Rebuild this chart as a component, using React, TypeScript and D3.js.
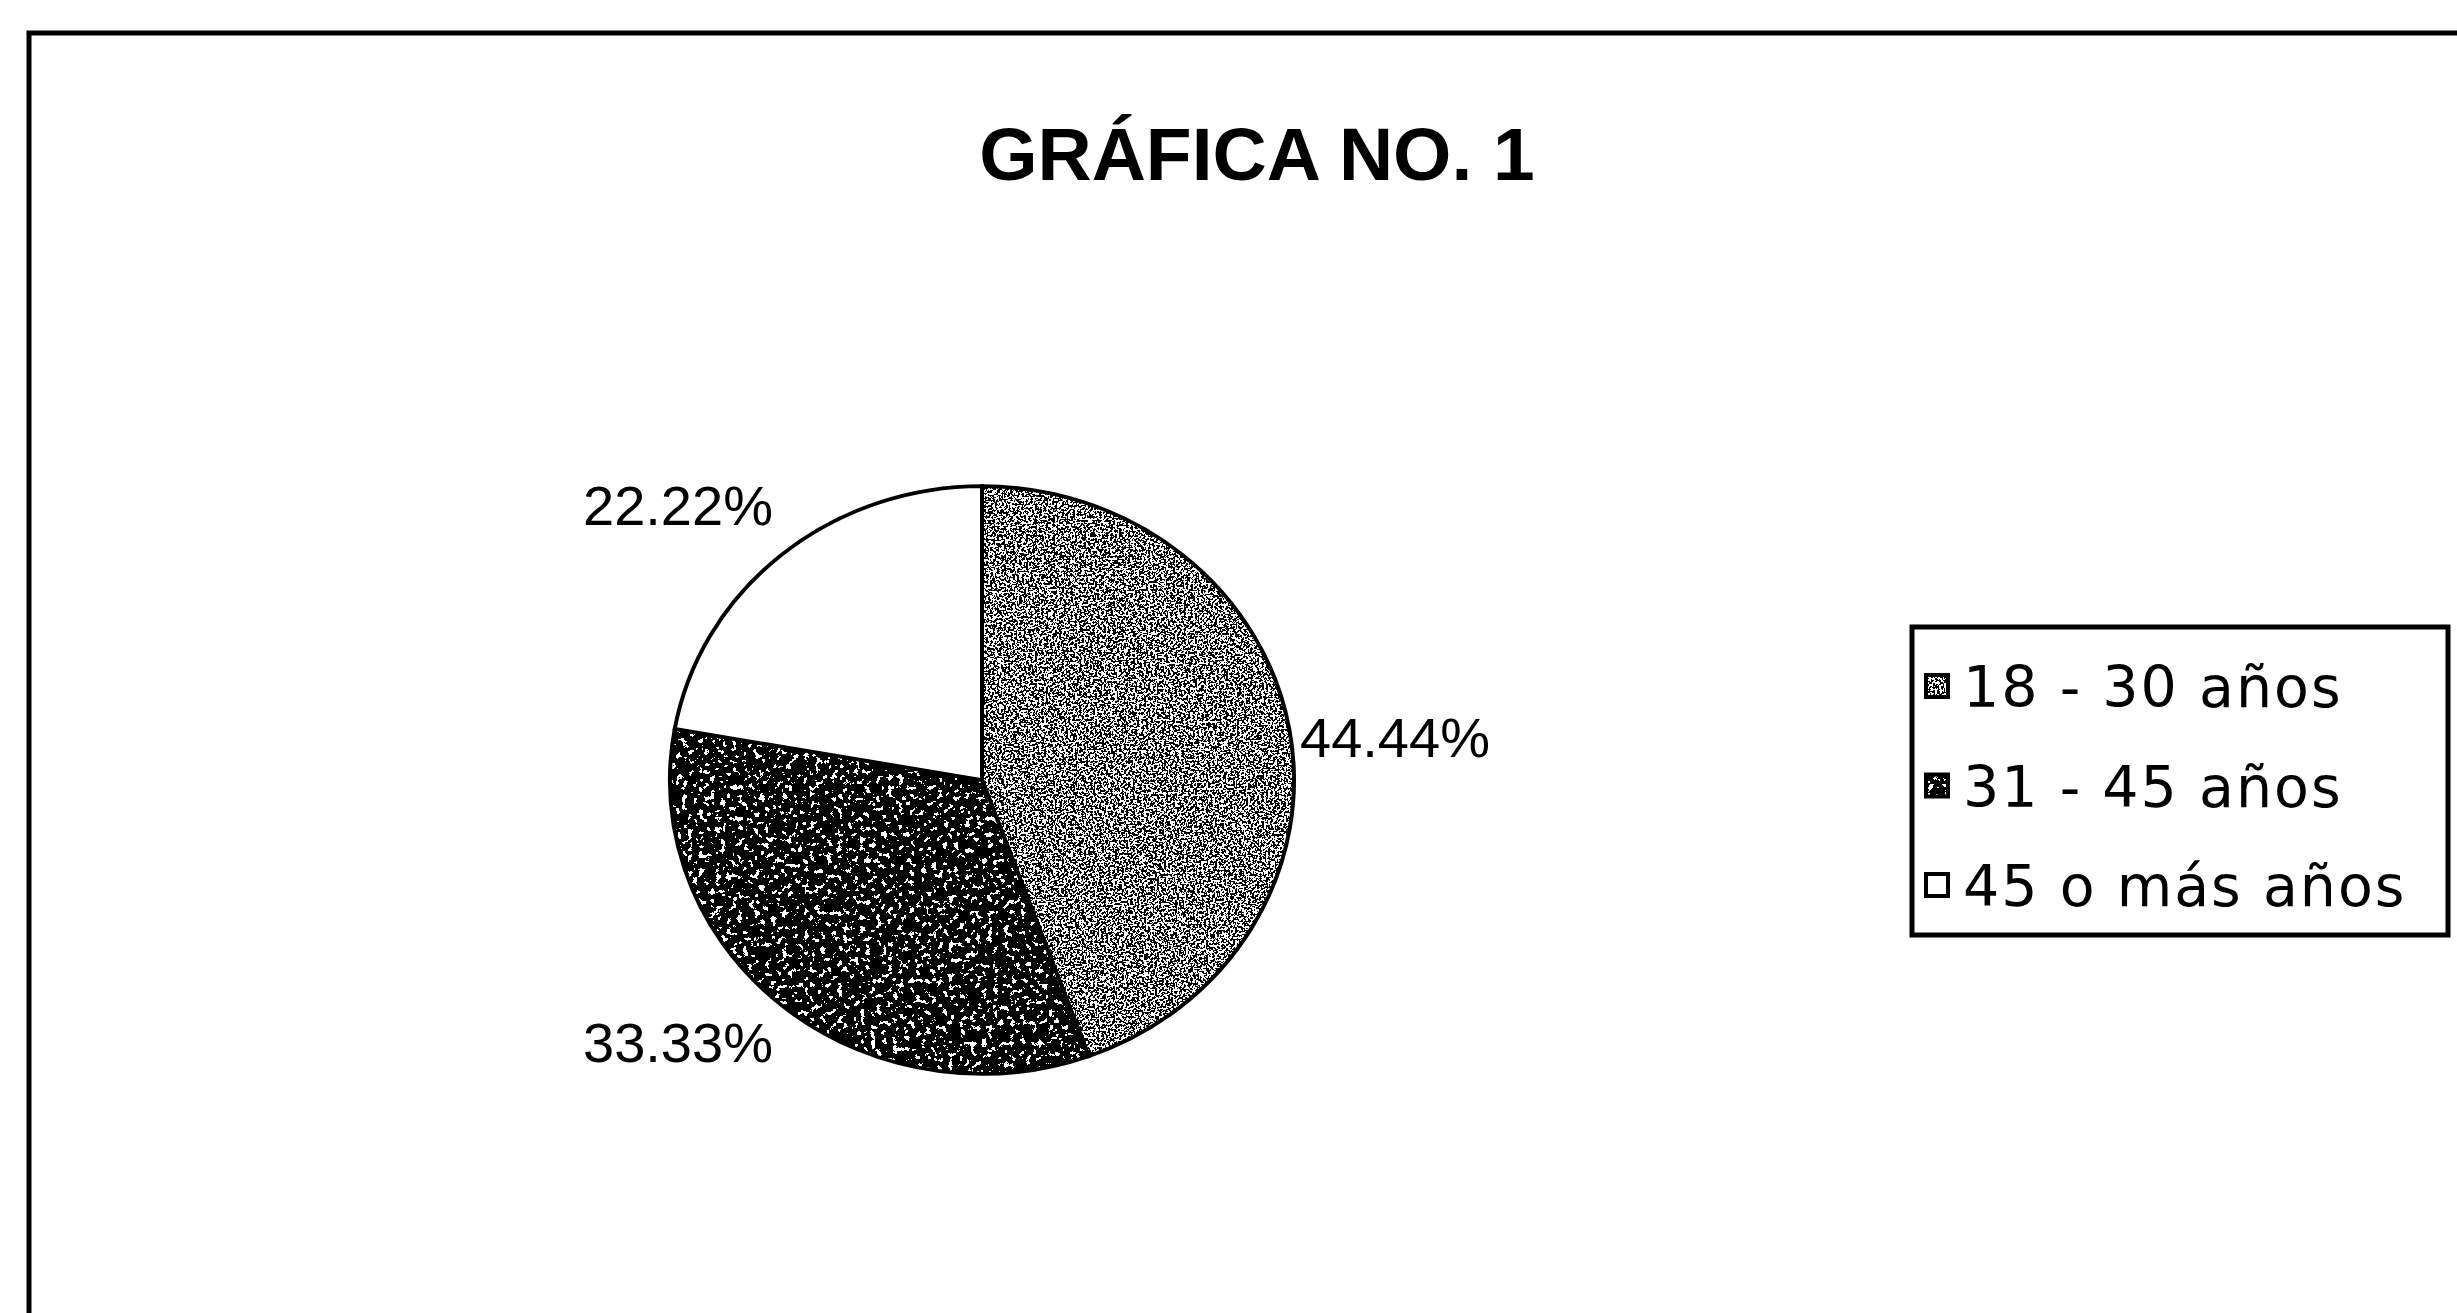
import React from 'react';
import * as d3 from 'd3';

// data
const categories = ['18 - 30 años', '31 - 45 años', '45 o más años'];
const values = [44.44, 33.33, 22.22];
const labels = ['44.44%', '33.33%', '22.22%'];
const title = 'GRÁFICA NO. 1';

const W = 2457;
const H = 1313;

export default function App() {
  // SETTINGS
  const cx = 982;
  const cy = 780;
  const radius = 312;
  const squash = 0.942;
  const font = 'Arial, "Liberation Sans", sans-serif';
  const legFont = '"DejaVu Sans", Verdana, sans-serif';

  const pie = d3.pie<number>().sort(null).startAngle(0).endAngle(2 * Math.PI);
  const arcs = pie(values);
  const arc = d3.arc<d3.PieArcDatum<number>>().innerRadius(0).outerRadius(radius);

  // label offsets from the pie centre (start anchored)
  const labelPos = [
    { dx: 318, dy: -23 },
    { dx: -399, dy: 282 },
    { dx: -399, dy: -255 },
  ];

  // legend
  const legX = 1912;
  const legY = 627;
  const legW = 536;
  const legH = 308;
  const rowY = d3.scalePoint<string>().domain(categories).range([legY + 59, legY + 258]);
  const mark = 22;

  const speck = (i: number) => (i === 0 ? 'url(#speckLight)' : 'url(#speckDark)');

  return (
    <svg width={W} height={H} style={{ position: 'absolute', left: 0, top: 0, background: '#fff' }}>
      <defs>
        <filter id="speckLight" x="0" y="0" width="1" height="1" filterUnits="objectBoundingBox">
          <feTurbulence type="fractalNoise" baseFrequency="0.45" numOctaves="2" seed="4" result="noise" />
          <feColorMatrix in="noise" type="matrix" values="0 0 0 0 0  0 0 0 0 0  0 0 0 0 0  1.6 0 0 0 -0.3" result="a" />
          <feComponentTransfer in="a" result="dots">
            <feFuncA type="discrete" tableValues="0 0 0 0 0 1 1 1 1 1" />
          </feComponentTransfer>
          <feComposite in="dots" in2="SourceGraphic" operator="in" />
        </filter>
        <filter id="speckDark" x="0" y="0" width="1" height="1" filterUnits="objectBoundingBox">
          <feTurbulence type="fractalNoise" baseFrequency="0.18" numOctaves="4" seed="9" result="noise" />
          <feColorMatrix in="noise" type="matrix" values="0 0 0 0 0  0 0 0 0 0  0 0 0 0 0  1.6 0 0 0 -0.3" result="a" />
          <feComponentTransfer in="a" result="dots">
            <feFuncA type="discrete" tableValues="0 0 0 1 1 1 1 1 1 1" />
          </feComponentTransfer>
          <feComposite in="dots" in2="SourceGraphic" operator="in" />
        </filter>
      </defs>

      {/* outer frame, runs off right and bottom */}
      <rect x={29} y={33} width={W + 40} height={H + 40} fill="none" stroke="#000" strokeWidth={5} />

      <text x={1257} y={180} textAnchor="middle" fontFamily={font} fontWeight="bold" fontSize={75} fill="#000">
        {title}
      </text>

      <g transform={`translate(${cx},${cy}) scale(1,${squash})`}>
        {arcs.map((a, i) => (
          <g key={categories[i]}>
            <path d={arc(a) || ''} fill="#fff" />
            {i < 2 && <path d={arc(a) || ''} fill="#000" filter={speck(i)} />}
            <path d={arc(a) || ''} fill="none" stroke="#000" strokeWidth={4} />
          </g>
        ))}
      </g>

      {arcs.map((a, i) => (
        <text
          key={labels[i]}
          x={cx + labelPos[i].dx}
          y={cy + labelPos[i].dy}
          fontFamily={font}
          fontSize={56}
          fill="#000"
        >
          {labels[i]}
        </text>
      ))}

      <rect x={legX} y={legY} width={legW} height={legH} fill="#fff" stroke="#000" strokeWidth={5} />
      {categories.map((c, i) => {
        const y = rowY(c) || 0;
        return (
          <g key={c}>
            <rect x={legX + 14} y={y - mark / 2} width={mark} height={mark} fill="#fff" stroke="#000" strokeWidth={4} />
            {i < 2 && <rect x={legX + 14} y={y - mark / 2} width={mark} height={mark} fill="#000" filter={speck(i)} />}
            <text x={legX + 51} y={y + 21} fontFamily={legFont} fontSize={57} letterSpacing={2} fill="#000">
              {c}
            </text>
          </g>
        );
      })}
    </svg>
  );
}
